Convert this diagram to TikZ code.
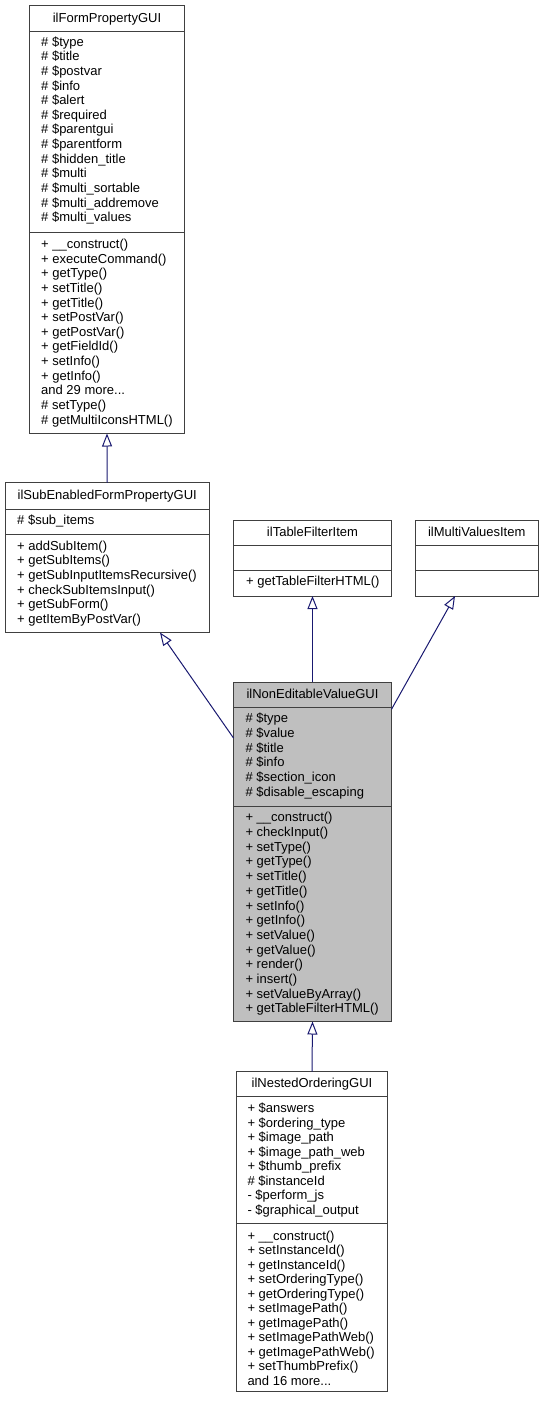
\documentclass[tikz,border=0pt]{standalone}
\usepackage{fontspec}
\usetikzlibrary{arrows.meta,calc}
\newfontfamily\cf{Liberation Sans}
\newcommand\cfont{\cf\fontsize{13}{14.6}\selectfont}
\newcommand\tdots{...}
\definecolor{boxc}{RGB}{64,64,64}
\definecolor{focusc}{RGB}{191,191,191}
\definecolor{edgec}{RGB}{25,25,112}
\newcommand\seclines[5]{\foreach \t [count=\i] in {#5} {\node[mem] (#1\i) at ({#2},{-(#3+(\i-1)*#4)}) {\t};}}
\tikzset{
  cls/.style={draw=boxc, line width=1pt, fill=white, inner sep=0pt, outer sep=0pt, anchor=north west},
  divl/.style={draw=boxc, line width=1pt},
  ttl/.style={font=\cfont, anchor=base, inner sep=0pt},
  mem/.style={font=\cfont, anchor=base west, inner sep=0pt},
  inh/.style={draw=edgec, line width=1pt, -{Triangle[open, length=13pt, width=10pt]}},
}
\begin{document}
\begin{tikzpicture}[x=1pt,y=1pt]
\useasboundingbox (0,0) rectangle (543,-1403);
% ---------- ilFormPropertyGUI
\node[cls, minimum width=155pt, minimum height=428pt] (b1) at (29.5,-5.5) {};
\draw[divl] ([yshift=-26pt]b1.north west) -- ([yshift=-26pt]b1.north east);
\draw[divl] ([yshift=-227pt]b1.north west) -- ([yshift=-227pt]b1.north east);
\node[ttl] (b1t) at (107,-22) {ilFormPropertyGUI};
\seclines{b1a}{41}{46.2}{14.63}{{\# \$type},{\# \$title},{\# \$postvar},{\# \$info},{\# \$alert},{\# \$required},{\# \$parentgui},{\# \$parentform},{\# \$hidden\_title},{\# \$multi},{\# \$multi\_sortable},{\# \$multi\_addremove},{\# \$multi\_values}}
\seclines{b1m}{41}{248.5}{14.64}{{+ \_\_construct()},{+ executeCommand()},{+ getType()},{+ setTitle()},{+ getTitle()},{+ setPostVar()},{+ getPostVar()},{+ getFieldId()},{+ setInfo()},{+ getInfo()},{and 29 more\tdots},{\# setType()},{\# getMultiIconsHTML()}}
% ---------- ilSubEnabledFormPropertyGUI
\node[cls, minimum width=204.5pt, minimum height=150pt] (b2) at (5,-482.5) {};
\draw[divl] ([yshift=-26.5pt]b2.north west) -- ([yshift=-26.5pt]b2.north east);
\draw[divl] ([yshift=-51.5pt]b2.north west) -- ([yshift=-51.5pt]b2.north east);
\node[ttl] (b2t) at (107.25,-499.3) {ilSubEnabledFormPropertyGUI};
\seclines{b2a}{17}{524.2}{14.6}{{\# \$sub\_items}}
\seclines{b2m}{17}{550.2}{14.6}{{+ addSubItem()},{+ getSubItems()},{+ getSubInputItemsRecursive()},{+ checkSubItemsInput()},{+ getSubForm()},{+ getItemByPostVar()}}
% ---------- ilTableFilterItem
\node[cls, minimum width=158pt, minimum height=76pt] (b3) at (233.5,-520) {};
\draw[divl] ([yshift=-25pt]b3.north west) -- ([yshift=-25pt]b3.north east);
\draw[divl] ([yshift=-50.5pt]b3.north west) -- ([yshift=-50.5pt]b3.north east);
\node[ttl] (b3t) at (312.5,-536) {ilTableFilterItem};
\seclines{b3m}{246}{585.5}{14.6}{{+ getTableFilterHTML()}}
% ---------- ilMultiValuesItem
\node[cls, minimum width=123.5pt, minimum height=76pt] (b4) at (415,-520) {};
\draw[divl] ([yshift=-25pt]b4.north west) -- ([yshift=-25pt]b4.north east);
\draw[divl] ([yshift=-50.5pt]b4.north west) -- ([yshift=-50.5pt]b4.north east);
\node[ttl] (b4t) at (476.75,-536) {ilMultiValuesItem};
% ---------- ilNonEditableValueGUI
\node[cls, fill=focusc, minimum width=158pt, minimum height=339.5pt] (b5) at (233.5,-682) {};
\draw[divl] ([yshift=-25pt]b5.north west) -- ([yshift=-25pt]b5.north east);
\draw[divl] ([yshift=-124pt]b5.north west) -- ([yshift=-124pt]b5.north east);
\node[ttl] (b5t) at (312.5,-698) {ilNonEditableValueGUI};
\seclines{b5a}{245.3}{722.5}{14.8}{{\# \$type},{\# \$value},{\# \$title},{\# \$info},{\# \$section\_icon},{\# \$disable\_escaping}}
\seclines{b5m}{245.3}{821.8}{14.7}{{+ \_\_construct()},{+ checkInput()},{+ setType()},{+ getType()},{+ setTitle()},{+ getTitle()},{+ setInfo()},{+ getInfo()},{+ setValue()},{+ getValue()},{+ render()},{+ insert()},{+ setValueByArray()},{+ getTableFilterHTML()}}
% ---------- ilNestedOrderingGUI
\node[cls, minimum width=151pt, minimum height=320pt] (b6) at (236.5,-1071.5) {};
\draw[divl] ([yshift=-25pt]b6.north west) -- ([yshift=-25pt]b6.north east);
\draw[divl] ([yshift=-151.5pt]b6.north west) -- ([yshift=-151.5pt]b6.north east);
\node[ttl] (b6t) at (312,-1087.5) {ilNestedOrderingGUI};
\seclines{b6a}{247.3}{1112.5}{14.55}{{+ \$answers},{+ \$ordering\_type},{+ \$image\_path},{+ \$image\_path\_web},{+ \$thumb\_prefix},{\# \$instanceId},{- \$perform\_js},{- \$graphical\_output}}
\seclines{b6m}{247.3}{1240.2}{14.5}{{+ \_\_construct()},{+ setInstanceId()},{+ getInstanceId()},{+ setOrderingType()},{+ getOrderingType()},{+ setImagePath()},{+ getImagePath()},{+ setImagePathWeb()},{+ getImagePathWeb()},{+ setThumbPrefix()},{and 16 more\tdots}}
% ---------- inheritance edges
\draw[inh] (b2.north) -- (b1.south);
\draw[inh] (b5.north) -- (b3.south);
\draw[inh] (b6.north) -- (b5.south);
\coordinate (e1s) at ([yshift=-56pt]b5.north west);
\coordinate (e1e) at ([xshift=155pt]b2.south west);
\draw[inh] (e1s) -- (e1e);
\coordinate (e2s) at ([yshift=-27.3pt]b5.north east);
\coordinate (e2e) at ([xshift=40pt]b4.south west);
\draw[inh] (e2s) -- (e2e);
\end{tikzpicture}
\end{document}
